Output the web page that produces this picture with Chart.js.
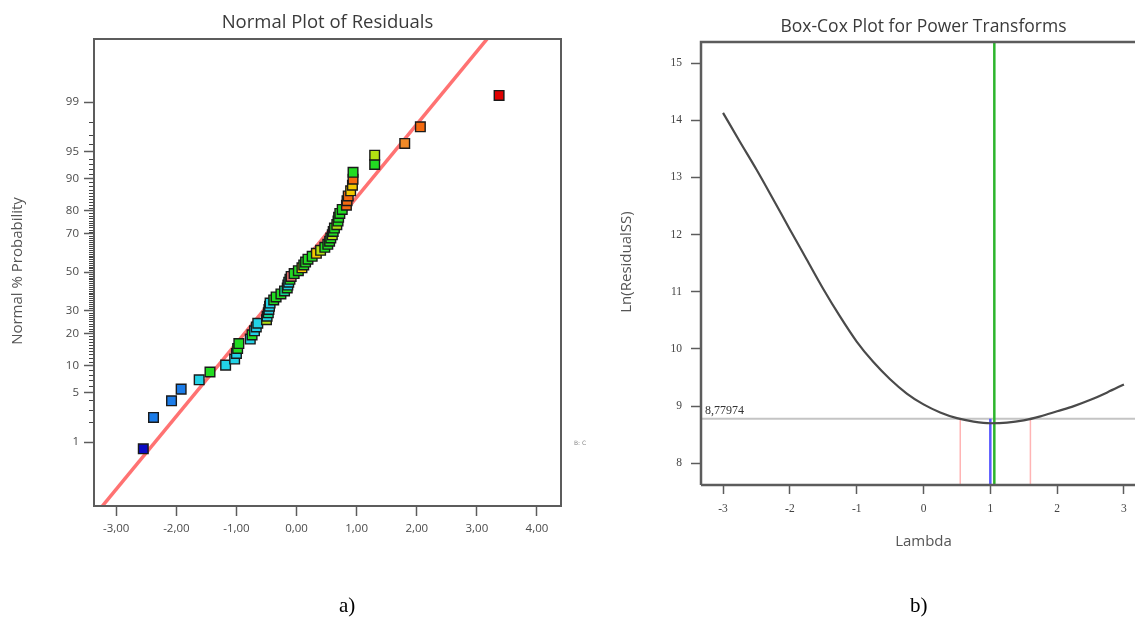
<!DOCTYPE html>
<html>
<head>
<meta charset="utf-8">
<script src="https://cdn.jsdelivr.net/npm/chart.js@4.4.1/dist/chart.umd.min.js"></script>
<style>
html, body { margin: 0; padding: 0; background: #fff; overflow: hidden; width: 1135px; height: 625px; }
#left { position: absolute; left: 0; top: 0; width: 600px; height: 625px; }
#right { position: absolute; left: 600px; top: 0; width: 560px; height: 625px; }
.cap { position: absolute; font-family: "Liberation Serif", serif; font-size: 21px; color: #000; line-height: 24px; }
.tag { position: absolute; font-family: "DejaVu Sans", sans-serif; font-size: 6px; color: #888; }
</style>
</head>
<body>
<div id="left"><canvas id="normalChart"></canvas></div>
<div id="right"><canvas id="boxcoxChart"></canvas></div>
<div class="cap" style="left:339px; top:593px;">a)</div>
<div class="cap" style="left:910px; top:593px;">b)</div>
<div class="tag" style="left:574px; top:439px;">B: C</div>
<script>
// ---- Normal plot of residuals ----
const probTicks = [1, 5, 10, 20, 30, 50, 70, 80, 90, 95, 99];
const residTicks = [-3, -2, -1, 0, 1, 2, 3, 4];
const residTickLabels = ['-3,00', '-2,00', '-1,00', '0,00', '1,00', '2,00', '3,00', '4,00'];

const residuals = [
    -2.55, -2.38, -2.08, -1.92, -1.62, -1.44, -1.18, -1.03,
    -1.00, -0.98, -0.96, -0.77, -0.74, -0.70, -0.67, -0.645,
    -0.50, -0.49, -0.47, -0.46, -0.45, -0.44, -0.38, -0.34,
    -0.26, -0.20, -0.155, -0.145, -0.13, -0.11, -0.09, -0.04,
    0.03, 0.09, 0.12, 0.15, 0.19, 0.26, 0.33, 0.40,
    0.47, 0.52, 0.55, 0.57, 0.595, 0.61, 0.63, 0.67,
    0.69, 0.70, 0.72, 0.76, 0.83, 0.84, 0.86, 0.90,
    0.93, 0.94, 0.94, 1.30, 1.30, 1.80, 2.06, 3.37
];
const probabilities = [
    0.78, 2.34, 3.91, 5.47, 7.03, 8.59, 10.16, 11.72,
    13.28, 14.84, 16.41, 17.97, 19.53, 21.09, 22.66, 24.22,
    25.78, 27.34, 28.91, 30.47, 32.03, 33.59, 35.16, 36.72,
    38.28, 39.84, 41.41, 42.97, 44.53, 46.09, 47.66, 49.22,
    50.78, 52.34, 53.91, 55.47, 57.03, 58.59, 60.16, 61.72,
    63.28, 64.84, 66.41, 67.97, 69.53, 71.09, 72.66, 74.22,
    75.78, 77.34, 78.91, 80.47, 82.03, 83.59, 85.16, 86.72,
    88.28, 89.84, 91.41, 92.97, 94.53, 96.09, 97.66, 99.22
];
const colorKeys = [
    'b', 'B', 'B', 'B', 'c', 'g', 'c', 'c',
    'c', 'g', 'g', 'c', 'g', 'c', 'c', 'c',
    'y', 'c', 't', 'c', 'c', 'c', 'g', 'g',
    'g', 't', 'g', 'c', 'c', 'g', 'p', 'g',
    'g', 'Y', 'g', 'g', 'g', 'g', 'Y', 'y',
    'g', 'g', 'g', 'g', 'y', 'g', 'g', 'y',
    'g', 'g', 'g', 'g', 'o', 'o', 'o', 'Y',
    'Y', 'o', 'g', 'g', 'y', 'O', 'o', 'r'
];
const palette = {
    b: '#0a0ac4', B: '#1c7ce8', c: '#22d2e6', t: '#12d690', g: '#22dc22',
    y: '#b2e012', Y: '#f2c800', o: '#f46a10', O: '#f08a28', r: '#e00000', p: '#e06a6a'
};
// fitted line, in normal score units
const fitLineResid = [-3.30, 3.24];
const fitLineScore = [-3.27, 3.26];

// ---- Box-Cox ----
const lambdas = [-3, -2.75, -2.5, -2.25, -2, -1.75, -1.5, -1.25, -1, -0.75, -0.5, -0.25,
    0, 0.25, 0.5, 0.75, 1, 1.25, 1.5, 1.75, 2, 2.25, 2.5, 2.75, 3];
const lnResidualSS = [14.13, 13.63, 13.14, 12.62, 12.09, 11.57, 11.05, 10.57, 10.13, 9.77, 9.47, 9.22,
    9.03, 8.89, 8.79, 8.73, 8.70, 8.71, 8.75, 8.82, 8.91, 9.00, 9.11, 9.24, 9.38];
const lambdaTicks = [-3, -2, -1, 0, 1, 2, 3];
const lnTicks = [8, 9, 10, 11, 12, 13, 14, 15];
const ciLevel = 8.77974;
const ciLevelLabel = '8,77974';
const ciLow = 0.55;
const ciHigh = 1.60;
const currentLambda = 1.0;
const bestLambda = 1.06;

const bxMin = -3.33, bxMax = 3.33, byMin = 7.62, byMax = 15.37;

function probit(p) {
    const a = [-3.969683028665376e+01, 2.209460984245205e+02, -2.759285104469687e+02, 1.383577518672690e+02, -3.066479806614716e+01, 2.506628277459239e+00];
    const b = [-5.447609879822406e+01, 1.615858368580409e+02, -1.556989798598866e+02, 6.680131188771972e+01, -1.328068155288572e+01];
    const c = [-7.784894002430293e-03, -3.223964580411365e-01, -2.400758277161838e+00, -2.549732539343734e+00, 4.374664141464968e+00, 2.938163982698783e+00];
    const d = [7.784695709041462e-03, 3.224671290700398e-01, 2.445134137142996e+00, 3.754408661907416e+00];
    const pl = 0.02425;
    let q, r;
    if (p < pl) {
        q = Math.sqrt(-2 * Math.log(p));
        return (((((c[0] * q + c[1]) * q + c[2]) * q + c[3]) * q + c[4]) * q + c[5]) / ((((d[0] * q + d[1]) * q + d[2]) * q + d[3]) * q + 1);
    }
    if (p > 1 - pl) {
        q = Math.sqrt(-2 * Math.log(1 - p));
        return -(((((c[0] * q + c[1]) * q + c[2]) * q + c[3]) * q + c[4]) * q + c[5]) / ((((d[0] * q + d[1]) * q + d[2]) * q + d[3]) * q + 1);
    }
    q = p - 0.5;
    r = q * q;
    return (((((a[0] * r + a[1]) * r + a[2]) * r + a[3]) * r + a[4]) * r + a[5]) * q / (((((b[0] * r + b[1]) * r + b[2]) * r + b[3]) * r + b[4]) * r + 1);
}

Chart.defaults.animation = false;
Chart.defaults.font.family = '"Open Sans", sans-serif';

const axisGray = '#5c5c5c';

const normalDecor = {
    id: 'normalDecor',
    afterDraw(chart) {
        const { ctx, chartArea: a, scales } = chart;
        ctx.save();
        ctx.strokeStyle = '#444';
        ctx.lineWidth = 1;
        for (let p = 1; p <= 99; p++) {
            if (probTicks.includes(p)) continue;
            const y = Math.round(scales.y.getPixelForValue(probit(p / 100))) + 0.5;
            ctx.beginPath();
            ctx.moveTo(a.left - 5, y);
            ctx.lineTo(a.left, y);
            ctx.stroke();
        }
        ctx.strokeStyle = axisGray;
        ctx.lineWidth = 2;
        ctx.strokeRect(a.left, a.top, a.right - a.left, a.bottom - a.top);

        ctx.fillStyle = '#3a3a3a';
        ctx.textAlign = 'center';
        ctx.textBaseline = 'middle';
        ctx.font = '18.5px "Open Sans", sans-serif';
        ctx.fillText('Normal Plot of Residuals', (a.left + a.right) / 2, 23);
        ctx.translate(18, 271);
        ctx.rotate(-Math.PI / 2);
        ctx.font = '15px "Open Sans", sans-serif';
        ctx.fillStyle = '#555';
        ctx.fillText('Normal % Probability', 0, 0);
        ctx.restore();
    }
};

new Chart(document.getElementById('normalChart'), {
    type: 'scatter',
    data: {
        datasets: [
            {
                data: residuals.map((r, i) => ({ x: r, y: probit(probabilities[i] / 100) })),
                pointStyle: 'rect',
                pointRadius: 6.8,
                pointBackgroundColor: colorKeys.map(k => palette[k]),
                pointBorderColor: '#1a1a1a',
                pointBorderWidth: 1.4,
                order: 1
            },
            {
                data: fitLineResid.map((r, i) => ({ x: r, y: fitLineScore[i] })),
                showLine: true,
                borderColor: '#ff7272',
                borderWidth: 3.5,
                pointRadius: 0,
                order: 2
            }
        ]
    },
    options: {
        responsive: true,
        maintainAspectRatio: false,
        layout: { padding: { left: 0, top: 39, right: 39, bottom: 0 } },
        plugins: { legend: { display: false }, tooltip: { enabled: false } },
        scales: {
            x: {
                type: 'linear',
                min: -3.37,
                max: 4.4,
                afterFit: s => { s.height = 119; },
                afterBuildTicks: s => { s.ticks = residTicks.map(v => ({ value: v })); },
                grid: { drawOnChartArea: false, tickLength: 10, tickColor: axisGray, tickWidth: 1.5 },
                border: { display: false },
                ticks: {
                    autoSkip: false, maxRotation: 0, padding: 6,
                    color: '#4a4a4a', font: { size: 11.5 },
                    callback: (v, i) => residTickLabels[i]
                }
            },
            y: {
                type: 'linear',
                min: -3.2,
                max: 3.19,
                afterFit: s => { s.width = 94; },
                afterBuildTicks: s => { s.ticks = probTicks.map(p => ({ value: probit(p / 100) })); },
                grid: { drawOnChartArea: false, tickLength: 10, tickColor: axisGray, tickWidth: 1.5 },
                border: { display: false },
                ticks: {
                    autoSkip: false, padding: 5,
                    color: '#4a4a4a', font: { size: 11.5 },
                    callback: (v, i) => String(probTicks[i])
                }
            }
        }
    },
    plugins: [normalDecor]
});

const boxcoxDecor = {
    id: 'boxcoxDecor',
    afterDraw(chart) {
        const { ctx, chartArea: a, scales } = chart;
        ctx.save();
        ctx.strokeStyle = axisGray;
        ctx.lineWidth = 2.5;
        ctx.beginPath();
        ctx.moveTo(a.left, a.bottom);
        ctx.lineTo(a.left, a.top);
        ctx.lineTo(a.right, a.top);
        ctx.moveTo(a.left, a.bottom);
        ctx.lineTo(a.right, a.bottom);
        ctx.stroke();

        ctx.fillStyle = '#3a3a3a';
        ctx.textAlign = 'center';
        ctx.textBaseline = 'middle';
        ctx.font = '17.5px "Open Sans", sans-serif';
        ctx.fillText('Box-Cox Plot for Power Transforms', (a.left + a.right) / 2, 27);

        ctx.font = '15px "Open Sans", sans-serif';
        ctx.fillStyle = '#555';
        ctx.fillText('Lambda', (a.left + a.right) / 2, 542);

        ctx.font = '12px "Liberation Serif", serif';
        ctx.fillStyle = '#333';
        ctx.textAlign = 'left';
        ctx.textBaseline = 'bottom';
        ctx.fillText(ciLevelLabel, a.left + 4, scales.y.getPixelForValue(ciLevel) - 2);

        ctx.translate(27, 262);
        ctx.rotate(-Math.PI / 2);
        ctx.textAlign = 'center';
        ctx.textBaseline = 'middle';
        ctx.font = '15px "Open Sans", sans-serif';
        ctx.fillStyle = '#555';
        ctx.fillText('Ln(ResidualSS)', 0, 0);
        ctx.restore();
    }
};

function vLine(x, y0, y1, color, width) {
    return {
        data: [{ x: x, y: y0 }, { x: x, y: y1 }],
        showLine: true, borderColor: color, borderWidth: width, pointRadius: 0
    };
}

new Chart(document.getElementById('boxcoxChart'), {
    type: 'scatter',
    data: {
        datasets: [
            {
                data: lambdas.map((l, i) => ({ x: l, y: lnResidualSS[i] })),
                showLine: true,
                borderColor: '#4a4a4a',
                borderWidth: 2.2,
                pointRadius: 0,
                cubicInterpolationMode: 'monotone',
                order: 1
            },
            Object.assign(vLine(bestLambda, byMin, byMax, '#2cb52c', 2.5), { order: 2 }),
            Object.assign(vLine(currentLambda, byMin, ciLevel, '#5a5aff', 2.5), { order: 3 }),
            Object.assign(vLine(ciLow, byMin, ciLevel, '#ffb4b4', 1.5), { order: 4 }),
            Object.assign(vLine(ciHigh, byMin, ciLevel, '#ffb4b4', 1.5), { order: 4 }),
            {
                data: [{ x: bxMin, y: ciLevel }, { x: bxMax, y: ciLevel }],
                showLine: true, borderColor: '#c4c4c4', borderWidth: 2, pointRadius: 0, order: 5
            }
        ]
    },
    options: {
        responsive: true,
        maintainAspectRatio: false,
        layout: { padding: { left: 0, top: 42, right: 14, bottom: 0 } },
        plugins: { legend: { display: false }, tooltip: { enabled: false } },
        scales: {
            x: {
                type: 'linear',
                min: bxMin,
                max: bxMax,
                afterFit: s => { s.height = 140; },
                afterBuildTicks: s => { s.ticks = lambdaTicks.map(v => ({ value: v })); },
                grid: { drawOnChartArea: false, tickLength: 9, tickColor: axisGray, tickWidth: 1.5 },
                border: { display: false },
                ticks: {
                    autoSkip: false, maxRotation: 0, padding: 8,
                    color: '#444', font: { size: 11.5, family: '"Liberation Serif", serif' },
                    callback: v => String(v)
                }
            },
            y: {
                type: 'linear',
                min: byMin,
                max: byMax,
                afterFit: s => { s.width = 101; },
                afterBuildTicks: s => { s.ticks = lnTicks.map(v => ({ value: v })); },
                grid: { drawOnChartArea: false, tickLength: 10, tickColor: axisGray, tickWidth: 1.5 },
                border: { display: false },
                ticks: {
                    autoSkip: false, padding: 9,
                    color: '#444', font: { size: 11.5, family: '"Liberation Serif", serif' },
                    callback: v => String(v)
                }
            }
        }
    },
    plugins: [boxcoxDecor]
});
</script>
</body>
</html>
